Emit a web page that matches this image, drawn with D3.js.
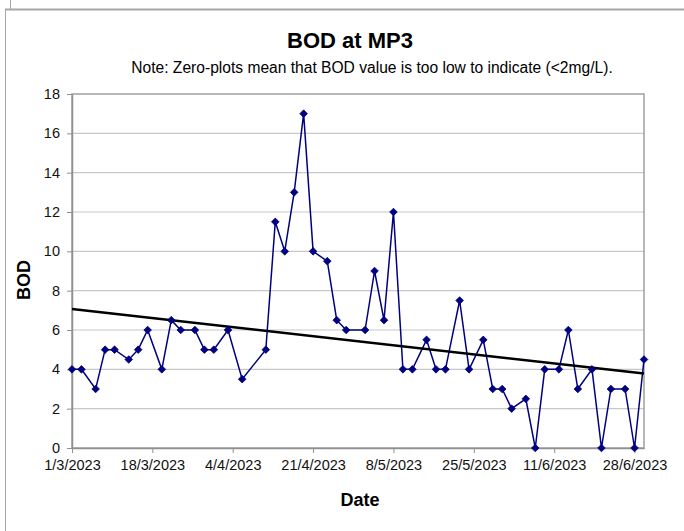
<!DOCTYPE html>
<html><head><meta charset="utf-8">
<script src="https://cdn.jsdelivr.net/npm/d3@7"></script>
<style>body{margin:0;background:#fff}svg{display:block}text{font-family:"Liberation Sans",Arial,sans-serif}</style>
</head><body>
<script>
const dates = ["2023-03-01","2023-03-03","2023-03-06","2023-03-08","2023-03-10","2023-03-13","2023-03-15","2023-03-17","2023-03-20","2023-03-22","2023-03-24","2023-03-27","2023-03-29","2023-03-31","2023-04-03","2023-04-06","2023-04-11","2023-04-13","2023-04-15","2023-04-17","2023-04-19","2023-04-21","2023-04-24","2023-04-26","2023-04-28","2023-05-02","2023-05-04","2023-05-06","2023-05-08","2023-05-10","2023-05-12","2023-05-15","2023-05-17","2023-05-19","2023-05-22","2023-05-24","2023-05-27","2023-05-29","2023-05-31","2023-06-02","2023-06-05","2023-06-07","2023-06-09","2023-06-12","2023-06-14","2023-06-16","2023-06-19","2023-06-21","2023-06-23","2023-06-26","2023-06-28","2023-06-30"];
const bod = [4,4,3,5,5,4.5,5,6,4,6.5,6,6,5,5,6,3.5,5,11.5,10,13,17,10,9.5,6.5,6,6,9,6.5,12,4,4,5.5,4,4,7.5,4,5.5,3,3,2,2.5,0,4,4,6,3,4,0,3,3,0,4.5];
const xTickLabels = ["1/3/2023","18/3/2023","4/4/2023","21/4/2023","8/5/2023","25/5/2023","11/6/2023","28/6/2023"];
const yTicks = [0,2,4,6,8,10,12,14,16,18];
const xDomain = ["2023-03-01","2023-06-30"];

const W=684,H=531, L=72,R=644,T=94,B=448;
const parse = s => new Date(s+"T00:00:00Z");
const data = dates.map((d,i)=>({d:parse(d), v:bod[i]}));
const svg = d3.select("body").append("svg").attr("width",W).attr("height",H);
svg.append("rect").attr("width",W).attr("height",H).attr("fill","#fff");
// outer frame
svg.append("line").attr("x1",5).attr("x2",W).attr("y1",9.5).attr("y2",9.5).attr("stroke","#a6a6a6").attr("stroke-width",2);
svg.append("line").attr("x1",5.5).attr("x2",5.5).attr("y1",9).attr("y2",H).attr("stroke","#a6a6a6").attr("stroke-width",1);
svg.append("line").attr("x1",10.5).attr("x2",10.5).attr("y1",0).attr("y2",9).attr("stroke","#a6a6a6").attr("stroke-width",1);

const x = d3.scaleUtc().domain(xDomain.map(parse)).range([L,R]);
const y = d3.scaleLinear().domain([0,18]).range([B,T]);

// gridlines
svg.append("g").selectAll("line").data(yTicks.filter(t=>t>0&&t<18)).join("line")
  .attr("x1",L).attr("x2",R).attr("y1",d=>y(d)).attr("y2",d=>y(d))
  .attr("stroke","#c8c8c8").attr("stroke-width",1.2);
// plot border
svg.append("rect").attr("x",L).attr("y",T).attr("width",R-L).attr("height",B-T)
  .attr("fill","none").attr("stroke","#a0a0a0").attr("stroke-width",1.5);

// axes
const xTickVals = xTickLabels.map(s=>{const [d,m,yy]=s.split("/").map(Number);return new Date(Date.UTC(yy,m-1,d));});
const xAxis = d3.axisBottom(x).tickValues(xTickVals).tickFormat((d,i)=>xTickLabels[i]).tickSize(5).tickSizeOuter(0);
const gx = svg.append("g").attr("transform",`translate(0,${B})`).call(xAxis);
gx.select(".domain").attr("stroke","#909090").attr("stroke-width",1.5);
gx.selectAll(".tick line").attr("stroke","#909090");
gx.selectAll("text").attr("font-size",14.5).attr("fill","#111").attr("dy","0.95em").attr("font-family","Liberation Sans, Arial, sans-serif");
const yAxis = d3.axisLeft(y).tickValues(yTicks).tickSize(5).tickSizeOuter(0).tickPadding(7);
const gy = svg.append("g").attr("transform",`translate(${L},0)`).call(yAxis);
gy.select(".domain").attr("stroke","#909090").attr("stroke-width",1.5);
gy.selectAll(".tick line").attr("stroke","#909090");
gy.selectAll("text").attr("font-size",14.5).attr("fill","#111").attr("font-family","Liberation Sans, Arial, sans-serif");

// series line
const line = d3.line().x(d=>x(d.d)).y(d=>y(d.v));
svg.append("path").datum(data).attr("d",line).attr("fill","none").attr("stroke","#000080").attr("stroke-width",1.5);

// linear trendline (least squares)
const xs = data.map(d=>(d.d - data[0].d)/864e5);
const mx=d3.mean(xs), my=d3.mean(bod);
const slope = d3.sum(xs.map((xv,i)=>(xv-mx)*(bod[i]-my)))/d3.sum(xs.map(xv=>(xv-mx)**2));
const icpt = my - slope*mx;
const [d0,d1] = x.domain();
const t0=(d0-data[0].d)/864e5, t1=(d1-data[0].d)/864e5;
svg.append("line").attr("x1",x(d0)).attr("x2",x(d1)).attr("y1",y(icpt+slope*t0)).attr("y2",y(icpt+slope*t1))
  .attr("stroke","#000").attr("stroke-width",2.5);

// markers
svg.append("g").selectAll("path").data(data).join("path")
  .attr("d",d=>{const cx=x(d.d), cy=y(d.v), r=3.8; return `M${cx},${cy-r}L${cx+r},${cy}L${cx},${cy+r}L${cx-r},${cy}Z`;})
  .attr("fill","#000080").attr("stroke","#000080").attr("stroke-width",0.8);

// titles
svg.append("text").attr("x",350).attr("y",48).attr("text-anchor","middle").attr("font-size",22).attr("font-weight","bold").attr("fill","#000").text("BOD at MP3");
svg.append("text").attr("x",372).attr("y",73).attr("text-anchor","middle").attr("font-size",15.6).attr("fill","#000").text("Note: Zero-plots mean that BOD value is too low to indicate (<2mg/L).");
svg.append("text").attr("x",360).attr("y",506).attr("text-anchor","middle").attr("font-size",18).attr("font-weight","bold").attr("fill","#000").text("Date");
svg.append("text").attr("transform","translate(30,280) rotate(-90)").attr("text-anchor","middle").attr("font-size",18).attr("font-weight","bold").attr("fill","#000").text("BOD");
</script>
</body></html>
